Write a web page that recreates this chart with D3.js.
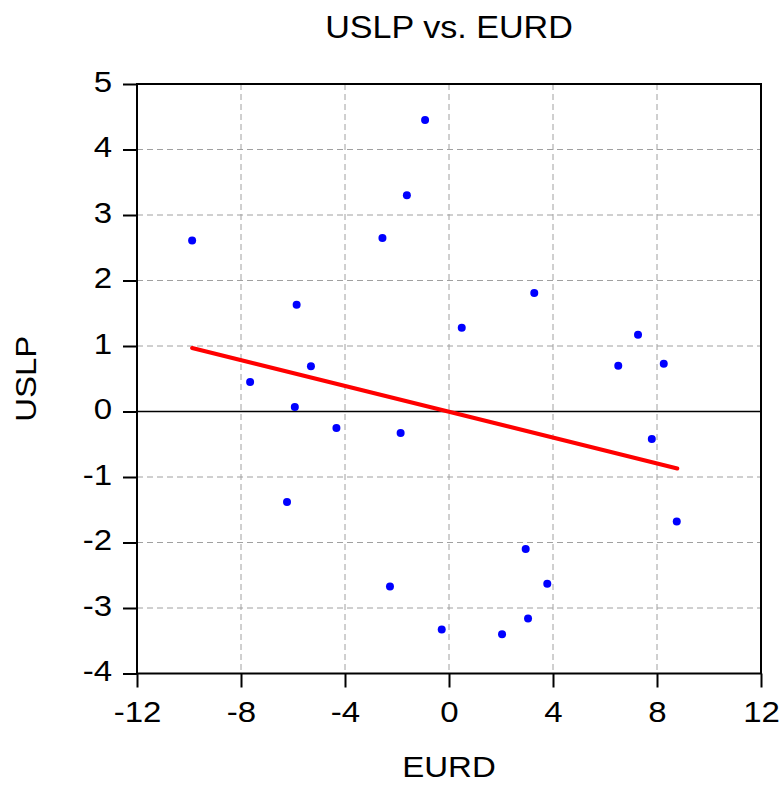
<!DOCTYPE html>
<html>
<head>
<meta charset="utf-8">
<script src="https://cdn.jsdelivr.net/npm/d3@7"></script>
<style>
  html, body { margin: 0; padding: 0; background: #fff; }
  svg text { font-family: "Liberation Sans", Arial, sans-serif; fill: #000; }
</style>
</head>
<body>
<div id="chart"></div>
<script>
// ---- data ----
const eurd = [-9.88, -7.65, -5.86, -5.31, -5.93, -4.33, -6.23, -2.56, -1.62, -0.92,
              -1.86, -2.27, -0.28, 0.49, 3.28, 2.04, 2.95, 3.04, 3.78, 6.51,
              7.27, 8.26, 7.80, 8.76];
const uslp = [2.61, 0.45, 1.63, 0.69, 0.07, -0.25, -1.38, 2.65, 3.30, 4.45,
              -0.33, -2.67, -3.33, 1.28, 1.81, -3.40, -2.10, -3.16, -2.63, 0.70,
              1.17, 0.73, -0.42, -1.68];
const fitX = [-9.88, 8.78];
const fitY = [0.97, -0.87];
const xTicks = [-12, -8, -4, 0, 4, 8, 12];
const yTicks = [-4, -3, -2, -1, 0, 1, 2, 3, 4, 5];
const titleText = "USLP vs. EURD";
const xLabel = "EURD";
const yLabel = "USLP";

// ---- layout ----
const W = 784, H = 785;
const pL = 137, pR = 761, pT = 84, pB = 673.5;
const FS = 30, SX = 1.1;

const svg = d3.select("#chart").append("svg")
  .attr("width", W).attr("height", H);

const x = d3.scaleLinear().domain([-12, 12]).range([pL, pR]);
const y = d3.scaleLinear().domain([-4, 5]).range([pB, pT]);

// gridlines
const grid = svg.append("g");
grid.selectAll("line.gx").data(xTicks.filter(d => d > -12 && d < 12)).join("line")
  .attr("x1", d => x(d)).attr("x2", d => x(d))
  .attr("y1", pT).attr("y2", pB)
  .attr("stroke", "#a0a0a0").attr("stroke-width", 1).attr("stroke-dasharray", "6,4");
grid.selectAll("line.gy").data(yTicks.filter(d => d > -4 && d < 5 && d !== 0)).join("line")
  .attr("y1", d => y(d)).attr("y2", d => y(d))
  .attr("x1", pL).attr("x2", pR)
  .attr("stroke", "#a0a0a0").attr("stroke-width", 1).attr("stroke-dasharray", "6,4");

// zero line
svg.append("line")
  .attr("x1", pL).attr("x2", pR).attr("y1", y(0)).attr("y2", y(0))
  .attr("stroke", "#000").attr("stroke-width", 1.6);

// fit line
svg.append("line")
  .attr("x1", x(fitX[0])).attr("y1", y(fitY[0]))
  .attr("x2", x(fitX[1])).attr("y2", y(fitY[1]))
  .attr("stroke", "#ff0000").attr("stroke-width", 4).attr("stroke-linecap", "round");

// points
svg.append("g").selectAll("circle").data(eurd).join("circle")
  .attr("cx", d => x(d)).attr("cy", (d, i) => y(uslp[i]))
  .attr("r", 4).attr("fill", "#0000ff");

// frame
svg.append("rect")
  .attr("x", pL).attr("y", pT).attr("width", pR - pL).attr("height", pB - pT)
  .attr("fill", "none").attr("stroke", "#000").attr("stroke-width", 2);

// axes via d3
const xAxis = d3.axisBottom(x).tickValues(xTicks).tickSize(14).tickPadding(0).tickFormat(d3.format("d"));
const gx = svg.append("g").attr("transform", `translate(0,${pB})`).call(xAxis);
gx.select(".domain").remove();
gx.selectAll(".tick line").attr("stroke", "#000").attr("stroke-width", 2);
gx.selectAll(".tick text").remove();
gx.selectAll(".tick").append("text")
  .attr("transform", `translate(0,${722 - pB}) scale(${SX},1)`)
  .attr("text-anchor", "middle").attr("font-size", FS)
  .text(d => d);

const yAxis = d3.axisLeft(y).tickValues(yTicks).tickSize(14).tickFormat(d3.format("d"));
const gy = svg.append("g").attr("transform", `translate(${pL},0)`).call(yAxis);
gy.select(".domain").remove();
gy.selectAll(".tick line").attr("stroke", "#000").attr("stroke-width", 2);
gy.selectAll(".tick text").remove();
gy.selectAll(".tick").append("text")
  .attr("transform", `translate(${112 - pL},7) scale(${SX},1)`)
  .attr("text-anchor", "end").attr("font-size", FS)
  .text(d => d);

// title
svg.append("text")
  .attr("transform", `translate(${(pL + pR) / 2},38) scale(${SX},1)`)
  .attr("text-anchor", "middle").attr("font-size", 31)
  .text(titleText);

// axis labels
svg.append("text")
  .attr("transform", `translate(${(pL + pR) / 2},777) scale(${SX},1)`)
  .attr("text-anchor", "middle").attr("font-size", 30)
  .text(xLabel);

svg.append("text")
  .attr("transform", `translate(36,${(pT + pB) / 2}) rotate(-90) scale(${SX},1)`)
  .attr("text-anchor", "middle").attr("font-size", 30)
  .text(yLabel);
</script>
</body>
</html>
